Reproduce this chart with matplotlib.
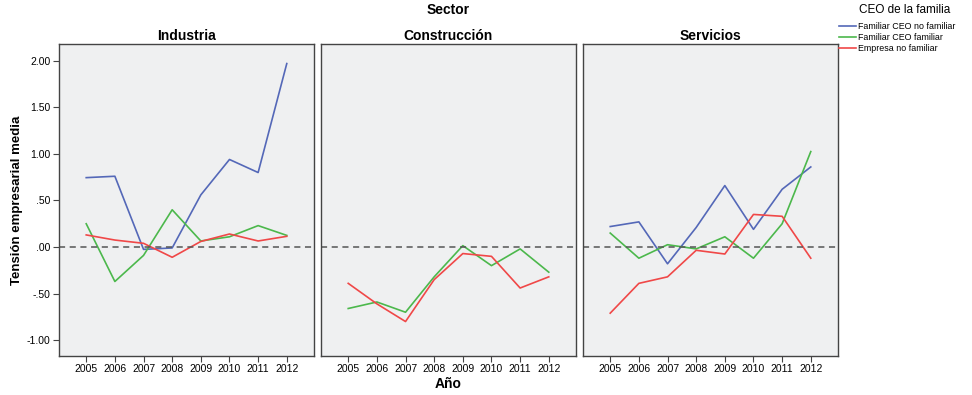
import matplotlib
matplotlib.use("Agg")
import matplotlib.pyplot as plt
from matplotlib.lines import Line2D

plt.rcParams['font.family'] = ['Liberation Sans', 'DejaVu Sans']

years = [2005, 2006, 2007, 2008, 2009, 2010, 2011, 2012]
sectors = ["Industria", "Construcción", "Servicios"]
series_names = ["Familiar CEO no familiar", "Familiar CEO familiar", "Empresa no familiar"]
legend_title = "CEO de la familia"
colors = ["#5468b8", "#4cb84c", "#f04848"]

industria_blue = [0.745, 0.76, -0.025, -0.01, 0.56, 0.94, 0.80, 1.97]
industria_green = [0.25, -0.37, -0.09, 0.40, 0.065, 0.11, 0.23, 0.125]
industria_red = [0.13, 0.075, 0.04, -0.11, 0.06, 0.14, 0.065, 0.115]

construccion_green = [-0.66, -0.59, -0.70, -0.32, 0.015, -0.20, -0.02, -0.27]
construccion_red = [-0.39, -0.61, -0.80, -0.35, -0.07, -0.10, -0.44, -0.32]

servicios_blue = [0.22, 0.27, -0.18, 0.21, 0.66, 0.19, 0.62, 0.86]
servicios_green = [0.15, -0.12, 0.025, -0.02, 0.11, -0.12, 0.25, 1.025]
servicios_red = [-0.71, -0.39, -0.32, -0.035, -0.075, 0.35, 0.33, -0.12]

panel_data = [
    [industria_blue, industria_green, industria_red],
    [None, construccion_green, construccion_red],
    [servicios_blue, servicios_green, servicios_red],
]

yticks = [-1.0, -0.5, 0.0, 0.5, 1.0, 1.5, 2.0]
ytick_labels = ["-1.00", "-.50", ".00", ".50", "1.00", "1.50", "2.00"]

fig = plt.figure(figsize=(9.72, 3.95), dpi=100)
lefts = [59, 321, 583]
width_px = 255
bottom = 1 - 356 / 395
height = (356 - 44) / 395

for i, (sector, data) in enumerate(zip(sectors, panel_data)):
    ax = fig.add_axes([lefts[i] / 972, bottom, width_px / 972, height])
    ax.set_facecolor("#eff0f1")
    for vals, c in zip(data, colors):
        if vals is not None:
            ax.plot(years, vals, color=c, lw=1.2)
    ax.axhline(0, color="#555555", lw=1.1, ls=(0, (4, 3)))
    ax.set_xlim(2004.05, 2012.95)
    ax.set_ylim(-1.17, 2.18)
    ax.set_xticks(years)
    ax.set_xticklabels([str(y) for y in years], fontsize=7.5)
    ax.set_title(sector, fontsize=10, fontweight="bold", pad=3)
    for s in ax.spines.values():
        s.set_color("#444444")
        s.set_linewidth(1.0)
    ax.tick_params(axis="x", length=4, color="#444444", pad=2)
    if i == 0:
        ax.set_yticks(yticks)
        ax.set_yticklabels(ytick_labels, fontsize=7.5)
        ax.tick_params(axis="y", length=4, color="#444444", pad=2)
        ax.set_ylabel("Tensión empresarial media", fontsize=9.5, fontweight="bold", labelpad=3)
    else:
        ax.set_yticks([])

fig.text(448 / 972, 1 - 10 / 395, "Sector", ha="center", va="center", fontsize=10, fontweight="bold")
fig.text(448 / 972, 1 - 384 / 395, "Año", ha="center", va="center", fontsize=10, fontweight="bold")
fig.text(905 / 972, 1 - 10 / 395, legend_title, ha="center", va="center", fontsize=8.5)

handles = [Line2D([0], [0], color=c, lw=1.2) for c in colors]
leg = fig.legend(handles, series_names, loc="upper left",
                 bbox_to_anchor=(834 / 972, 1 - 17 / 395), frameon=False, fontsize=6.4,
                 handlelength=1.9, handletextpad=0.2,
                 labelspacing=0.22, borderpad=0.1)

fig.savefig("out.png", dpi=100, facecolor="white")
